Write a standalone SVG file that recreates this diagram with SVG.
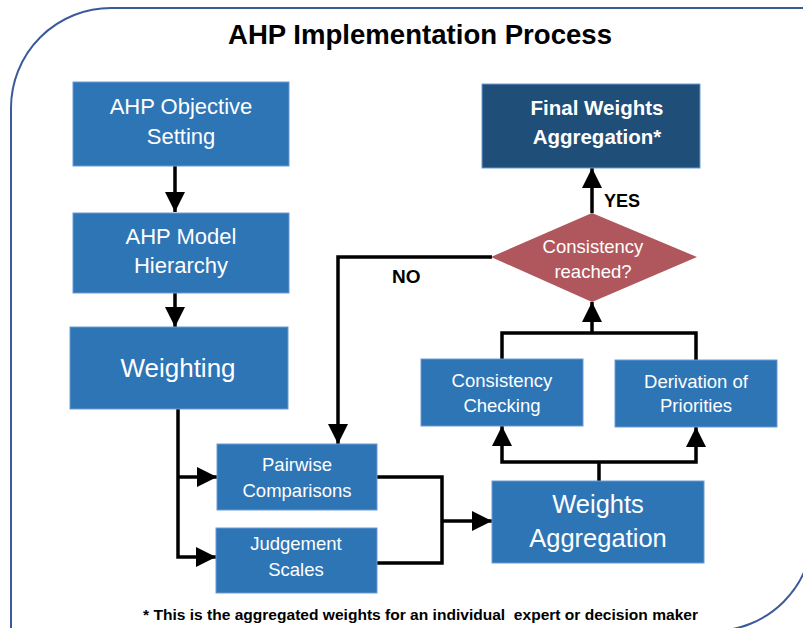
<svg xmlns="http://www.w3.org/2000/svg" width="803" height="628" viewBox="0 0 803 628">
  <style>
    .box { fill: #2E75B6; stroke: #6A9BD3; stroke-width: 1; }
    .dark { fill: #1F4E79; stroke: #6A9BD3; stroke-width: 1; }
    .dec { fill: #B0575E; }
    .lbl { font-family: "Liberation Sans", Arial, sans-serif; fill: #FFFFFF; text-anchor: middle; }
    .bold { font-weight: bold; }
    .note { font-family: "Liberation Sans", Arial, sans-serif; font-weight: bold; fill: #000000; }
    .wire { fill: none; stroke: #000000; stroke-width: 3.5; stroke-linejoin: miter; }
  </style>
  <defs>
    <marker id="arrow" markerUnits="userSpaceOnUse" markerWidth="22" markerHeight="22" viewBox="0 0 22 22" refX="20" refY="11" orient="auto">
      <path d="M 0 1 L 20 11 L 0 21 Z" fill="#000000"/>
    </marker>
  </defs>

  <rect width="803" height="628" fill="#FFFFFF"/>
  <!-- outer frame: rounded top-left and bottom-right corners -->
  <path d="M 11 640 L 11 108 A 100 100 0 0 1 111 8 L 813 8 L 813 531 A 100 100 0 0 1 713 631 L 11 640" fill="none" stroke="#3A5A9B" stroke-width="2"/>

  <text class="note" x="420" y="44" font-size="27" text-anchor="middle" textLength="384" lengthAdjust="spacingAndGlyphs">AHP Implementation Process</text>

  <!-- connectors -->
  <g id="connectors">
    <path class="wire" d="M 175 166 L 175 212" marker-end="url(#arrow)"/>
    <path class="wire" d="M 175 293 L 175 327" marker-end="url(#arrow)"/>
    <path class="wire" d="M 178 409 L 178 557 L 216 557" marker-end="url(#arrow)"/>
    <path class="wire" d="M 178 477 L 217 477" marker-end="url(#arrow)"/>
    <path class="wire" d="M 377 477 L 442 477 L 442 563 L 377 563"/>
    <path class="wire" d="M 442 521 L 492 521" marker-end="url(#arrow)"/>
    <path class="wire" d="M 599 481 L 599 462"/>
    <path class="wire" d="M 599 462 L 502 462 L 502 426" marker-end="url(#arrow)"/>
    <path class="wire" d="M 599 462 L 696 462 L 696 427" marker-end="url(#arrow)"/>
    <path class="wire" d="M 502 359 L 502 333 L 696 333 L 696 360"/>
    <path class="wire" d="M 592 333 L 592 302" marker-end="url(#arrow)"/>
    <path class="wire" d="M 592 213 L 592 168" marker-end="url(#arrow)"/>
    <path class="wire" d="M 492 257 L 338 257 L 338 444" marker-end="url(#arrow)"/>
    <text class="note" x="604" y="207" font-size="18">YES</text>
    <text class="note" x="392" y="283" font-size="19">NO</text>
  </g>

  <g id="objective">
    <rect class="box" x="73" y="82" width="216" height="84"/>
    <text class="lbl" x="181" y="114" font-size="22">AHP Objective</text>
    <text class="lbl" x="181" y="144" font-size="22">Setting</text>
  </g>

  <g id="hierarchy">
    <rect class="box" x="73" y="213" width="216" height="80"/>
    <text class="lbl" x="181" y="244" font-size="22">AHP Model</text>
    <text class="lbl" x="181" y="273" font-size="22">Hierarchy</text>
  </g>

  <g id="weighting">
    <rect class="box" x="70" y="327" width="218" height="82"/>
    <text class="lbl" x="178" y="377" font-size="26">Weighting</text>
  </g>

  <g id="pairwise">
    <rect class="box" x="217" y="444" width="160" height="66"/>
    <text class="lbl" x="297" y="471" font-size="18.5">Pairwise</text>
    <text class="lbl" x="297" y="497" font-size="18.5">Comparisons</text>
  </g>

  <g id="judgement">
    <rect class="box" x="216" y="528" width="161" height="65"/>
    <text class="lbl" x="296" y="550" font-size="18.5">Judgement</text>
    <text class="lbl" x="296" y="576" font-size="18.5">Scales</text>
  </g>

  <g id="aggregation">
    <rect class="box" x="492" y="481" width="212" height="82"/>
    <text class="lbl" x="598" y="513" font-size="25.5">Weights</text>
    <text class="lbl" x="598" y="547" font-size="25.5">Aggregation</text>
  </g>

  <g id="checking">
    <rect class="box" x="421" y="359" width="162" height="67"/>
    <text class="lbl" x="502" y="387" font-size="18.5">Consistency</text>
    <text class="lbl" x="502" y="412" font-size="18.5">Checking</text>
  </g>

  <g id="priorities">
    <rect class="box" x="615" y="360" width="162" height="67"/>
    <text class="lbl" x="696" y="388" font-size="18.5">Derivation of</text>
    <text class="lbl" x="696" y="412" font-size="18.5">Priorities</text>
  </g>

  <g id="decision">
    <polygon class="dec" points="592,213 697,257 592,302 491,257"/>
    <text class="lbl" x="593" y="253" font-size="18.5">Consistency</text>
    <text class="lbl" x="593" y="278" font-size="18.5">reached?</text>
  </g>

  <g id="final">
    <rect class="dark" x="482" y="84" width="218" height="84"/>
    <text class="lbl bold" x="597" y="115" font-size="20.5">Final Weights</text>
    <text class="lbl bold" x="597" y="144" font-size="20.5">Aggregation*</text>
  </g>

  <text class="note" x="143" y="620" font-size="15" xml:space="preserve" textLength="555" lengthAdjust="spacingAndGlyphs">* This is the aggregated weights for an individual  expert or decision maker</text>
</svg>
